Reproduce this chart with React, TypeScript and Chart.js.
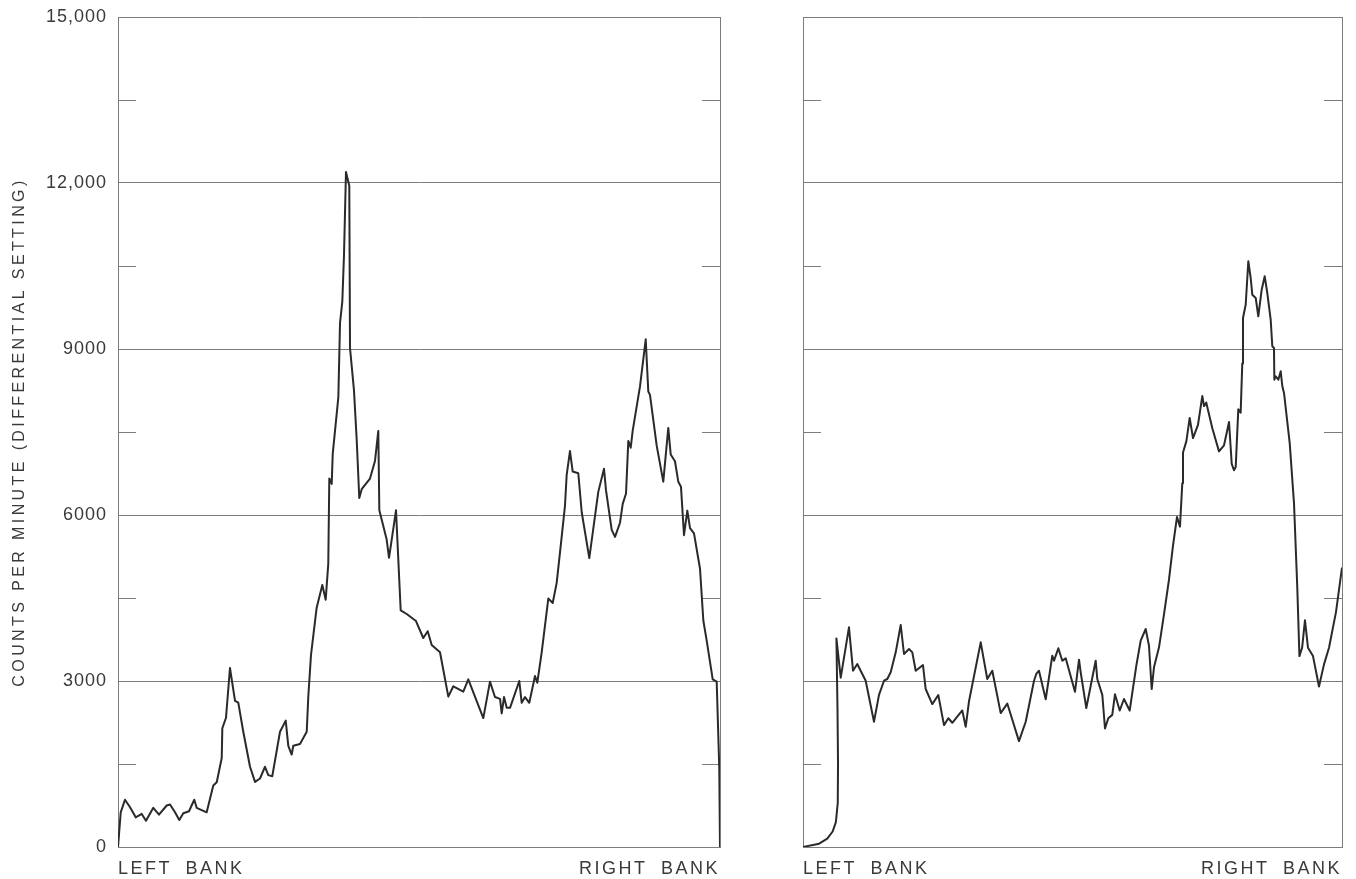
import React, { useEffect, useRef } from 'react';
import { Chart, registerables } from 'chart.js';

Chart.register(...registerables);

const FONT = '"Liberation Sans", Arial, Helvetica, sans-serif';
const TEXT = '#3a3a3a';
const GRID = '#7c7c7c';
const LINE = '#2a2a2a';

const yTitle = 'COUNTS PER MINUTE (DIFFERENTIAL SETTING)';
const yTicks = [0, 3000, 6000, 9000, 12000, 15000];
const yTickLabels = ['0', '3000', '6000', '9000', '12,000', '15,000'];
const minorTicks = [1500, 4500, 7500, 10500, 13500];
const bankLabels = ['LEFT BANK', 'RIGHT BANK'];

// Left traverse: position across section (0 = left bank, 100 = right bank)
const leftX = [
  0, 0.45, 1.16, 2.0, 2.94, 3.94, 4.65, 5.86, 6.81, 8.09,
  8.64, 9.47, 10.18, 10.85, 11.79, 12.67, 13.07, 14.73, 15.83, 16.4,
  17.23, 17.33, 17.94, 18.6, 19.44, 19.98, 20.81, 21.93, 22.76, 23.59,
  24.42, 24.97, 25.63, 26.91, 27.86, 28.29, 28.85, 29.12, 30.23, 31.35,
  31.61, 32.06, 33.0, 33.94, 34.5, 34.93, 35.1, 35.5, 35.67, 36.6,
  36.88, 37.26, 37.54, 37.87, 38.42, 38.54, 39.2, 39.65, 40.08, 40.48,
  41.86, 42.69, 43.24, 43.41, 44.63, 45.02, 46.18, 46.96, 47.96, 49.5,
  50.71, 51.45, 52.11, 53.49, 54.87, 55.7, 57.36, 58.19, 60.68, 61.79,
  62.62, 63.46, 63.74, 64.12, 64.57, 65.12, 66.66, 67.06, 67.61, 68.32,
  69.27, 69.65, 70.38, 71.48, 72.21, 72.87, 73.7, 74.25, 74.53, 75.08,
  75.53, 76.46, 77.03, 78.29, 79.78, 80.73, 81.06, 82.01, 82.56, 83.39,
  83.84, 84.39, 84.77, 85.17, 85.5, 86.71, 87.66, 88.09, 88.37, 89.49,
  90.58, 91.41, 91.81, 92.52, 93.07, 93.52, 94.02, 94.57, 95.02, 95.68,
  96.68, 97.23, 97.79, 98.79, 99.45, 99.88, 100,
];
const leftCounts = [
  0, 627, 854, 719, 536, 598, 476, 708, 585, 750,
  768, 627, 488, 609, 646, 854, 708, 627, 1110, 1170,
  1608, 2146, 2336, 3235, 2640, 2608, 2083, 1450, 1176, 1238,
  1450, 1299, 1280, 2083, 2284, 1829, 1671, 1829, 1861, 2083,
  2715, 3471, 4324, 4735, 4470, 5117, 6659, 6563, 7105, 8125,
  9470, 9857, 10692, 12200, 11952, 9018, 8252, 7359, 6307, 6466,
  6659, 6977, 7520, 6084, 5557, 5227, 6084, 4275, 4211, 4083,
  3777, 3900, 3650, 3520, 2717, 2905, 2808, 3030, 2330, 2988,
  2710, 2677, 2415, 2710, 2515, 2515, 3000, 2606, 2710, 2606,
  3090, 2968, 3517, 4490, 4410, 4774, 5604, 6171, 6725, 7155,
  6786, 6755, 6050, 5222, 6418, 6836, 6448, 5731, 5604, 5860,
  6202, 6388, 7339, 7216, 7525, 8323, 9175, 8232, 8170, 7248,
  6602, 7573, 7095, 6972, 6602, 6509, 5635, 6079, 5763, 5668,
  5029, 4094, 3729, 3030, 2988, 1430, 0,
];

// Right traverse
const rightX = [
  0, 3.0, 4.5, 5.5, 6.1, 6.45, 6.5, 6.4, 6.2, 7.0,
  8.53, 9.28, 10.07, 11.63, 13.17, 14.1, 15.03, 15.64, 16.27, 17.2,
  18.13, 18.74, 19.67, 20.28, 20.91, 22.26, 22.76, 23.99, 25.1, 26.16,
  26.96, 27.7, 29.55, 30.19, 30.8, 32.97, 34.19, 35.12, 36.68, 37.9,
  40.07, 41.32, 42.86, 43.28, 43.78, 45.03, 46.25, 46.57, 47.37, 48.11,
  48.74, 50.46, 51.21, 51.52, 52.56, 54.3, 54.6, 55.53, 56.03, 56.64,
  57.38, 57.88, 58.76, 59.55, 60.61, 61.84, 62.65, 63.58, 64.19, 64.69,
  65.12, 66.05, 66.98, 67.9, 68.64, 69.39, 69.94, 70.37, 70.5, 71.12,
  71.74, 72.36, 73.28, 74.08, 74.4, 74.82, 75.94, 77.18, 78.11, 79.04,
  79.54, 79.96, 80.28, 80.76, 81.2, 81.5, 81.63, 82.13, 82.62, 83.06,
  83.36, 83.99, 84.47, 85.1, 85.66, 86.14, 86.77, 87.07, 87.38, 87.45,
  87.7, 88.19, 88.63, 88.93, 89.24, 90.3, 91.1, 91.7, 92.1, 92.6,
  93.13, 93.69, 94.62, 95.73, 96.66, 97.59, 98.89, 100,
];
const rightCounts = [
  0, 60, 150, 280, 450, 800, 1500, 2500, 3770, 3060,
  3970, 3186, 3307, 3005, 2264, 2750, 3005, 3036, 3157, 3518,
  4012, 3488, 3578, 3518, 3186, 3289, 2855, 2583, 2746, 2203,
  2327, 2245, 2467, 2172, 2634, 3699, 3036, 3186, 2420, 2592,
  1913, 2264, 3005, 3127, 3186, 2670, 3457, 3367, 3591, 3367,
  3410, 2805, 3385, 3157, 2512, 3367, 3036, 2750, 2142, 2327,
  2388, 2759, 2467, 2675, 2467, 3277, 3728, 3940, 3638, 2855,
  3247, 3608, 4210, 4830, 5440, 5965, 5790, 6576, 7128, 7330,
  7753, 7390, 7630, 8150, 7968, 8030, 7568, 7150, 7260, 7680,
  6924, 6808, 6866, 7909, 7850, 8740, 9560, 9800, 10586, 10283,
  9981, 9922, 9590, 10072, 10314, 10012, 9529, 9049, 9018, 8445,
  8505, 8445, 8597, 8327, 8206, 7300, 6200, 4700, 3450, 3600,
  4100, 3600, 3450, 2900, 3300, 3600, 4250, 5050,
];

const frameExtras = {
  id: 'frameExtras',
  beforeUpdate(chart: any) {
    chart.ctx.letterSpacing = '1px';
  },
  beforeDraw(chart: any) {
    const ctx = chart.ctx;
    ctx.letterSpacing = '1px';
    ctx.wordSpacing = '0px';
  },
  beforeDatasetsDraw(chart: any) {
    const { ctx, chartArea, scales } = chart;
    const y = scales.y;
    ctx.save();
    ctx.strokeStyle = GRID;
    ctx.lineWidth = 1;
    ctx.beginPath();
    for (const v of minorTicks) {
      const py = Math.round(y.getPixelForValue(v)) + 0.5;
      ctx.moveTo(chartArea.left, py);
      ctx.lineTo(chartArea.left + 18, py);
      ctx.moveTo(chartArea.right - 18, py);
      ctx.lineTo(chartArea.right, py);
    }
    ctx.stroke();
    ctx.restore();
  },
  afterDatasetsDraw(chart: any) {
    chart.ctx.letterSpacing = '2.5px';
    chart.ctx.wordSpacing = '6px';
  },
  afterDraw(chart: any, _args: any, opts: any) {
    const { ctx, chartArea } = chart;
    if (opts && opts.title) {
      ctx.save();
      ctx.letterSpacing = '3.4px';
      ctx.wordSpacing = '0px';
      ctx.font = `16px ${FONT}`;
      ctx.fillStyle = TEXT;
      ctx.translate(20, (chartArea.top + chartArea.bottom) / 2);
      ctx.rotate(-Math.PI / 2);
      ctx.textAlign = 'center';
      ctx.textBaseline = 'middle';
      ctx.fillText(opts.title, 0, 0);
      ctx.restore();
    }
    ctx.letterSpacing = '0px';
    ctx.wordSpacing = '0px';
  },
};

function makeConfig(xs: number[], ys: number[], showY: boolean, yWidth: number, padRight: number, title: string | null): any {
  return {
    type: 'line',
    data: {
      datasets: [
        {
          data: xs.map((x, i) => ({ x, y: ys[i] })),
          borderColor: LINE,
          borderWidth: 2,
          pointRadius: 0,
          tension: 0,
          fill: false,
          borderJoinStyle: 'round',
        },
      ],
    },
    options: {
      animation: false,
      responsive: false,
      events: [],
      layout: { padding: { top: 17, right: padRight, left: 0, bottom: 0 } },
      plugins: {
        legend: { display: false },
        tooltip: { enabled: false },
        frameExtras: { title },
      },
      scales: {
        x: {
          type: 'linear',
          min: 0,
          max: 100,
          position: 'bottom',
          afterBuildTicks: (s: any) => {
            s.ticks = [{ value: 0 }, { value: 100 }];
          },
          afterFit: (s: any) => {
            s.height = 32;
            s.paddingLeft = 0;
            s.paddingRight = 0;
          },
          grid: { display: true, color: GRID, lineWidth: 1, drawTicks: false },
          border: { display: true, color: GRID, width: 1 },
          ticks: {
            z: 1,
            align: 'inner',
            autoSkip: false,
            maxRotation: 0,
            padding: 11,
            color: TEXT,
            font: { family: FONT, size: 18 },
            callback: (_v: any, i: number) => bankLabels[i],
          },
        },
        y: {
          type: 'linear',
          min: 0,
          max: 15000,
          afterBuildTicks: (s: any) => {
            s.ticks = yTicks.map((v) => ({ value: v }));
          },
          afterFit: (s: any) => {
            s.width = yWidth;
            s.paddingTop = 0;
            s.paddingBottom = 0;
          },
          grid: { color: GRID, lineWidth: 1, drawTicks: false },
          border: { display: true, color: GRID, width: 1 },
          ticks: {
            display: showY,
            padding: 11,
            color: TEXT,
            font: { family: FONT, size: 18 },
            callback: (_v: any, i: number) => yTickLabels[i],
          },
        },
      },
    },
    plugins: [frameExtras],
  };
}

export default function App() {
  const leftRef = useRef<HTMLCanvasElement | null>(null);
  const rightRef = useRef<HTMLCanvasElement | null>(null);

  useEffect(() => {
    const charts: Chart[] = [];
    if (leftRef.current) {
      charts.push(new Chart(leftRef.current, makeConfig(leftX, leftCounts, true, 118, 20, yTitle)));
    }
    if (rightRef.current) {
      charts.push(new Chart(rightRef.current, makeConfig(rightX, rightCounts, false, 63, 14, null)));
    }
    return () => {
      charts.forEach((c) => c.destroy());
    };
  }, []);

  return (
    <div style={{ position: 'absolute', left: 0, top: 0, width: 1356, height: 879, background: '#ffffff' }}>
      <canvas ref={leftRef} width={740} height={879} style={{ position: 'absolute', left: 0, top: 0 }} />
      <canvas ref={rightRef} width={616} height={879} style={{ position: 'absolute', left: 740, top: 0 }} />
    </div>
  );
}
